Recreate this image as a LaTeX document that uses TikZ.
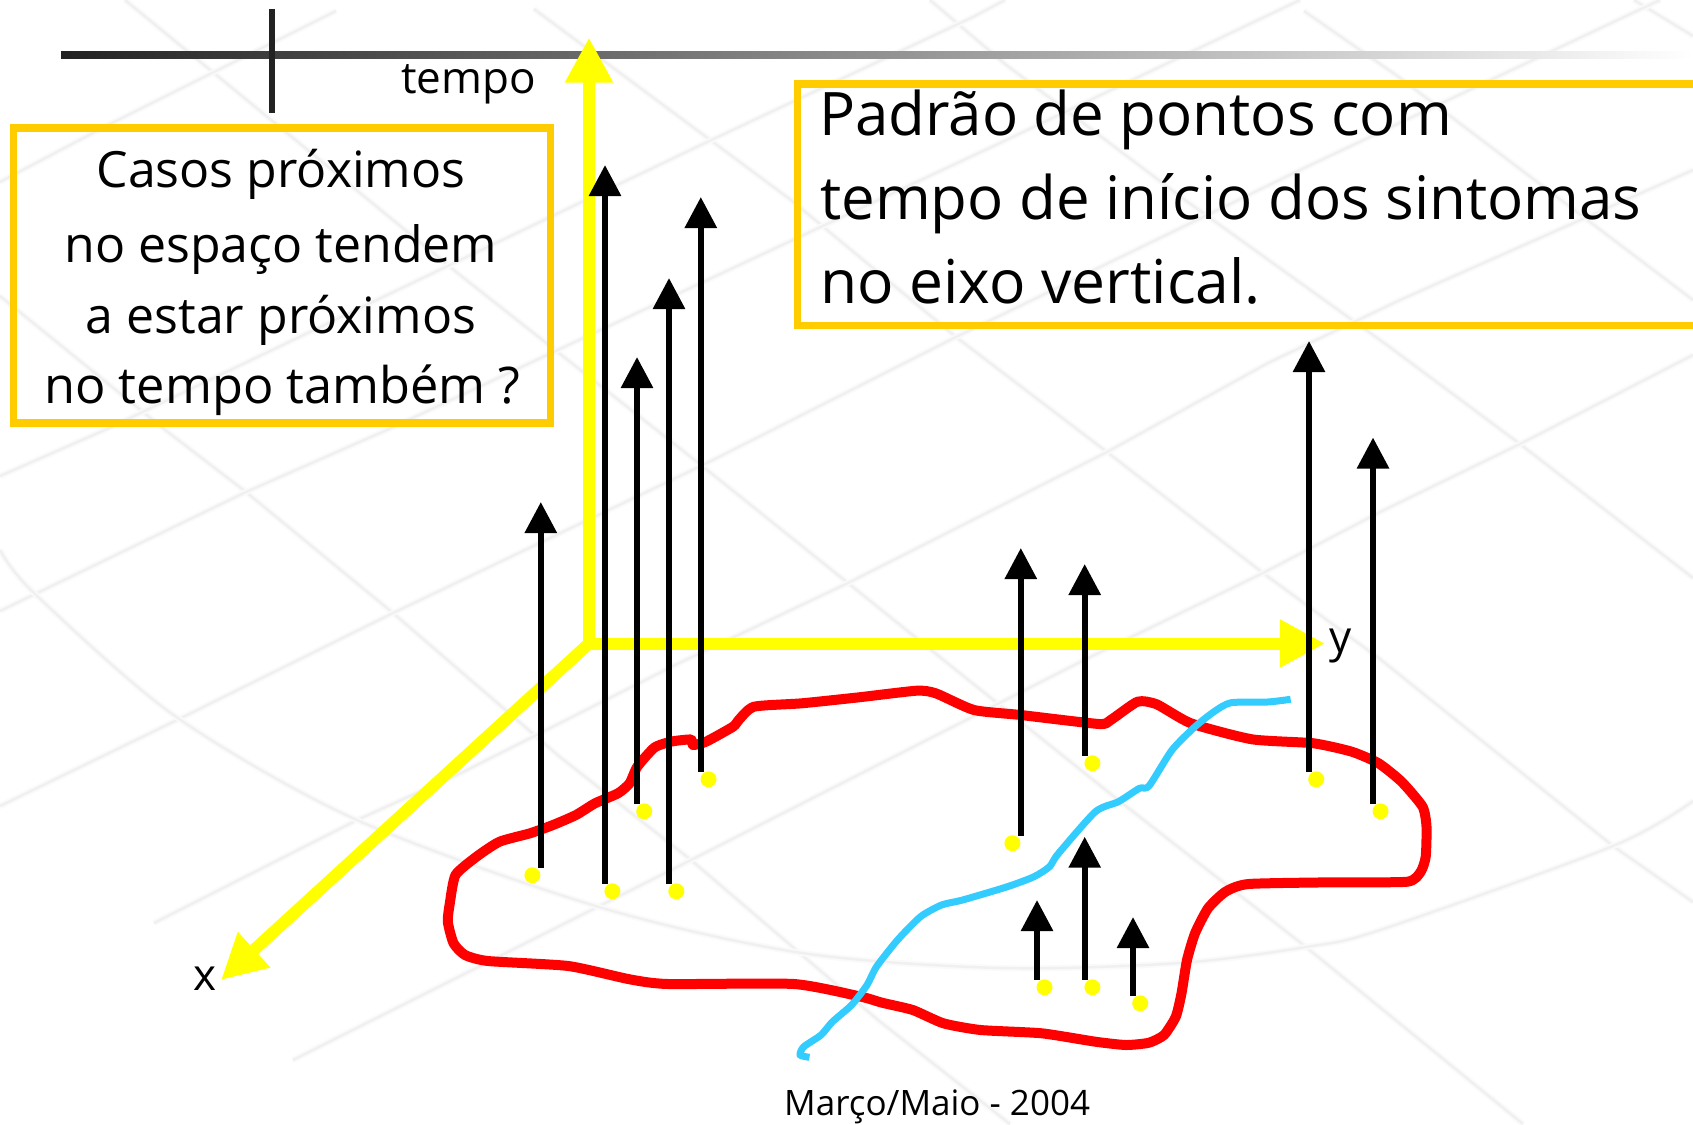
\documentclass[tikz,border=0pt]{standalone}
\usepackage{fontspec}
\setmainfont{Open Sans}
\usetikzlibrary{arrows.meta}
\definecolor{boxgold}{HTML}{FFCC00}
\definecolor{axisyellow}{HTML}{FFFF00}
\definecolor{outlinered}{HTML}{FF0000}
\definecolor{riverblue}{HTML}{33CCFF}
\definecolor{meshpale}{HTML}{FAFAFA}
\definecolor{meshgrey}{HTML}{F0F0F0}
\definecolor{barblack}{HTML}{222222}
\tikzset{
 mesh/.style={draw=meshpale,line width=6pt,line join=round,postaction={draw=meshgrey,line width=2.4pt}},
 axisarrow/.style={draw=axisyellow,line width=12pt,-{Triangle[length=45pt,width=45pt,fill=axisyellow]}},
 casearrow/.style={draw=black,line width=6pt,-{Triangle[length=31pt,width=31pt,fill=black]}},
 casedot/.style={circle,fill=axisyellow,inner sep=0pt,minimum size=16pt},
 framebox/.style={draw=boxgold,line width=7.5pt,line join=miter},
 txt/.style={inner sep=0pt,anchor=base west,text=black},
 txtc/.style={inner sep=0pt,anchor=base,text=black},
}
\begin{document}
\begin{tikzpicture}[x=1pt,y=-1pt]
\useasboundingbox (0,0) rectangle (1693,1124);
\fill[white] (0,0) rectangle (1693,1124);
% background mesh
\draw[mesh] (125,0) -- (460,275) -- (701,465) -- (848,583) -- (956,670) -- (1122,803) -- (1306,947) -- (1523,1124);
\draw[mesh] (0,296) -- (164,429) -- (246,492) -- (393,613) -- (560,757) -- (691,860) -- (878,1020) -- (1010,1124);
\draw[mesh] (534,9) -- (791,200) -- (956,337) -- (1107,452) -- (1263,573) -- (1380,659) -- (1613,846) -- (1693,902);
\draw[mesh] (930,0) -- (1005,64) -- (1185,200) -- (1387,345) -- (1520,444) -- (1693,578);
\draw[mesh] (1304,11) -- (1396,75) -- (1693,300);
\draw[mesh] (1634,0) -- (1693,36);
\draw[mesh] (0,182) -- (108,125) -- (336,11);
\draw[mesh] (0,476) -- (107,429) -- (705,143) -- (973,17) -- (1005,0);
\draw[mesh] (0,611) -- (246,492) -- (389,429) -- (1000,143) -- (1300,0);
\draw[mesh] (293,1060) -- (691,860) -- (1084,660) -- (1263,573) -- (1380,512) -- (1520,444) -- (1693,355);
\draw[mesh] (0,806) -- (175,721) -- (393,613) -- (705,464) -- (956,337) -- (1300,170) -- (1660,0);
\draw[mesh] (154,923) -- (357,820) -- (461,773) -- (675,665) -- (848,583) -- (1107,452) -- (1268,363) -- (1400,300) -- (1693,170);
\draw[mesh] plot[smooth,tension=0.5] coordinates {(0,550)(34,593)(175,716)(357,820)(599,907)(802,953)(1000,968)(1180,963)(1306,947)(1380,930)(1613,846)(1693,801)};
% top bar and tick
\shade[left color=barblack,right color=white] (61,51.5) rectangle (1693,58.5);
\coordinate (tickT) at (272,9);
\coordinate (tickB) at (272,112.5);
\draw[draw=barblack,line width=6.5pt] (tickT) -- (tickB);
% axes
\coordinate (O) at (589,643.5);
\coordinate (tTip) at (589,37.5);
\coordinate (yTip) at (1325,643.5);
\coordinate (xTip) at (221,980);
\draw[axisarrow] (O) -- (xTip);
\draw[axisarrow] ([yshift=6pt]O) -- (tTip);
\draw[axisarrow] ([xshift=-6pt]O) -- (yTip);
% boxes
\draw[framebox] (13.5,128) rectangle (550.5,423);
\draw[framebox] (1693,84) -- (797.5,84) -- (797.5,325.5) -- (1693,325.5);
% red outline
\draw[outlinered,line width=10pt,line join=round,line cap=round] plot[smooth cycle,tension=0.35] coordinates {
(693,745)(706,741.7)(733,726.7)(738.7,720)(754,706.7)(801.8,703.3)(859,697.3)(916.6,690.7)(935.8,693.3)(974,710)
(1020.8,715)(1099,724)(1110.7,720)(1137.5,701.7)(1156.7,704.3)(1191,723.3)(1252,739.3)(1313.6,743.3)(1351.8,751.7)
(1378.6,763.3)(1401.6,781.7)(1422.6,806.7)(1426.5,826.7)(1425.7,856.7)(1420.7,871.7)(1407.3,881.7)(1332.7,882.3)
(1248.5,884)(1225.5,891.7)(1208,908.3)(1195,933.3)(1187,960)(1181.5,993.3)(1175.8,1016.7)(1164,1035)(1149,1042.7)
(1126,1045)(1095.4,1041.7)(1041.8,1033.3)(980.6,1030)(943.4,1023.3)(912.8,1010)(882,1002.7)(861,996.7)(794,984)
(668,984)(629.6,979.3)(568.4,966)(488,961)(465,955)(453.6,943.3)(447.8,921.7)(449.8,903.3)(455.5,875)(476.5,856.7)
(499.5,841.7)(530,833.3)(553,825)(576,815)(595,803.3)(618,793.3)(629.6,783.3)(637.3,766.7)(654.5,747.5)(671.7,741.5)(691,739.5)
};
% blue river
\draw[riverblue,line width=7pt,line join=round] plot[smooth,tension=0.4] coordinates {
(809.5,1057.3)(800,1055)(803.8,1046.7)(821,1035)(832.5,1021.7)(851.6,1005)(867,985)(876.5,966.7)(897.5,940)(920.5,916.7)
(941.5,905)(962.6,900)(1007.4,886.7)(1034,876.7)(1049.5,866.7)(1058,854)(1095.4,811.7)(1118.4,801.7)(1139.4,788.3)
(1149,786)(1172,750)(1195,726.7)(1214,711.7)(1231,702.7)(1267.6,702)(1290.6,699.3)
};
% case dots
\node[casedot] (d1) at (532.4,875.3) {};
\node[casedot] (d2) at (612.4,891.3) {};
\node[casedot] (d3) at (644.2,811.3) {};
\node[casedot] (d4) at (676.3,891.3) {};
\node[casedot] (d5) at (708.5,779.3) {};
\node[casedot] (d6) at (1012.4,843.3) {};
\node[casedot] (d7) at (1092.4,763.3) {};
\node[casedot] (d8) at (1316.2,779.3) {};
\node[casedot] (d9) at (1380.5,811.3) {};
\node[casedot] (d10) at (1044.5,987.3) {};
\node[casedot] (d11) at (1092.4,987.3) {};
\node[casedot] (d12) at (1140.2,1003.3) {};
% case arrows
\foreach \n/\x/\b/\t in {1/540.8/867.7/502,2/605/883.7/165,3/637/803.7/357,4/669/883.7/278,5/700.8/771.7/197,
 6/1020.8/835.7/548,7/1084.7/755.7/564,8/1309/771.7/341,9/1373/803.7/437.5,10/1037/979.7/900,11/1084.7/979.7/836.7,12/1133/995.7/917}{
 \coordinate (b\n) at (\x,\b);
 \coordinate (t\n) at (\x,\t);
 \draw[casearrow] (b\n) -- (t\n);
}
% labels
\node[txt,font=\fontsize{44}{44}\selectfont] (ltempo) at (401,93) {tempo};
\node[txtc,font=\fontsize{50}{50}\selectfont] (l1) at (281,187.5) {Casos próximos};
\node[txtc,font=\fontsize{50}{50}\selectfont] (l2) at (281,262.5) {no espaço tendem};
\node[txtc,font=\fontsize{50}{50}\selectfont] (l3) at (281,333) {a estar próximos};
\node[txtc,font=\fontsize{50.5}{50}\selectfont] (l4) at (282.5,403.6) {no tempo também ?};
\node[txt,font=\fontsize{60}{60}\selectfont] (r1) at (819,135) {Padrão de pontos com};
\node[txt,font=\fontsize{60}{60}\selectfont] (r2) at (820,219.6) {tempo de início dos sintomas};
\node[txt,font=\fontsize{60.5}{60}\selectfont] (r3) at (820,303.6) {no eixo vertical.};
\node[txt,font=\fontsize{44}{44}\selectfont] (lx) at (193,990) {x};
\node[txt,font=\fontsize{44}{44}\selectfont] (ly) at (1329,652) {y};
\node[txt,font=\fontsize{35}{35}\selectfont] (foot) at (784,1115.5) {Março/Maio - 2004};
\end{tikzpicture}
\end{document}
